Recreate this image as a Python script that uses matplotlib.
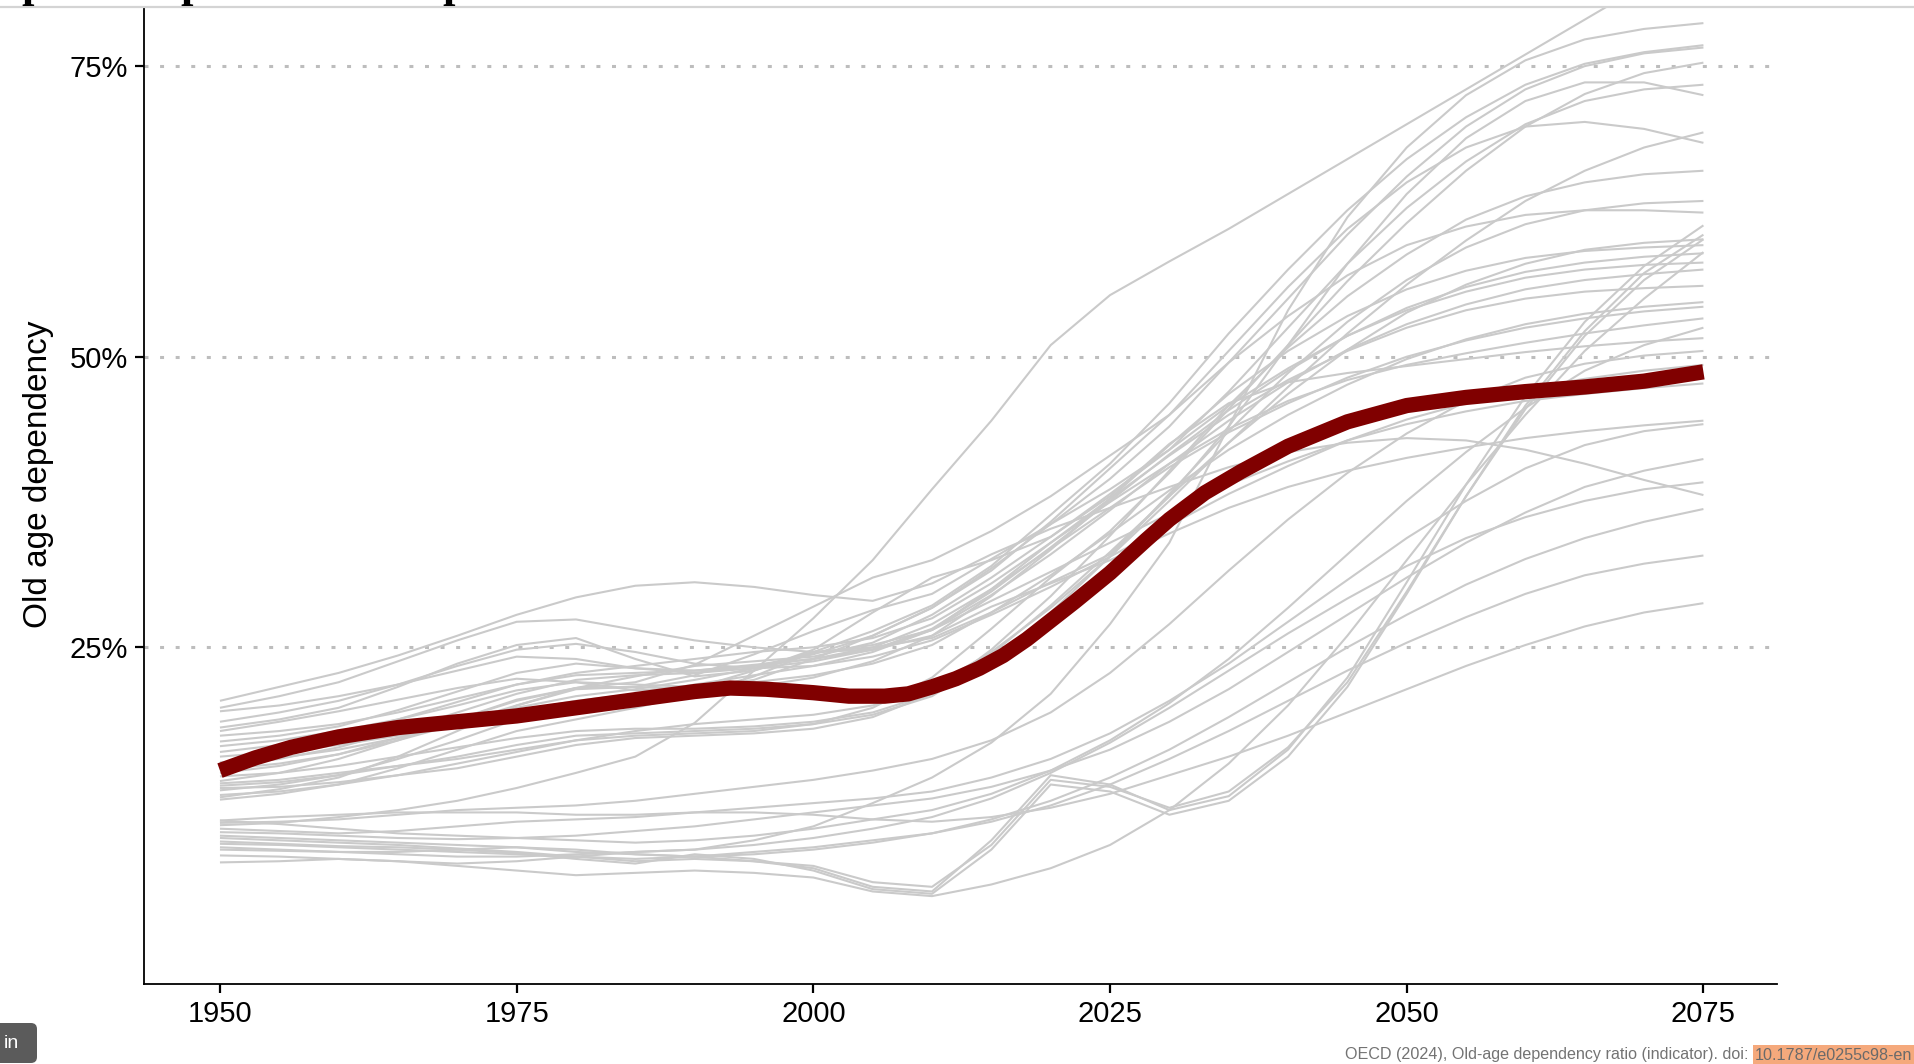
import matplotlib
matplotlib.use("Agg")
import matplotlib.pyplot as plt
from matplotlib.lines import Line2D
from matplotlib.patches import FancyBboxPatch

plt.rcParams["font.family"] = ["Liberation Sans", "DejaVu Sans"]

years = list(range(1950, 2076, 5))

# OECD average (highlighted), read at a finer step where it bends
avg_years = [1950, 1953, 1956, 1960, 1965, 1970, 1975, 1980, 1985, 1990, 1993, 1996, 2000,
             2003, 2006, 2008, 2010, 2012, 2014, 2016, 2018, 2020, 2022, 2025, 2028, 2030,
             2033, 2036, 2040, 2045, 2050, 2055, 2060, 2065, 2070, 2075]
oecd_avg = [14.4, 15.5, 16.4, 17.3, 18.1, 18.6, 19.1, 19.8, 20.5, 21.2, 21.5, 21.4, 21.1,
            20.8, 20.8, 21.0, 21.6, 22.3, 23.2, 24.3, 25.7, 27.3, 28.9, 31.4, 34.2, 36.0,
            38.3, 40.1, 42.3, 44.4, 45.8, 46.5, 47.0, 47.4, 47.9, 48.7]

# countries that start from a higher ratio in 1950
high_group = [
    [20.4, 21.6, 22.8, 24.3, 26.0, 27.8, 29.3, 30.3, 30.6, 30.2, 29.5, 29.0, 30.5, 33.0, 35.2, 37.0, 38.8, 40.5, 41.8, 42.6, 43.0, 42.8, 42.0, 40.8, 39.4, 38.1],
    [19.8, 20.8, 22.0, 23.8, 25.6, 27.2, 27.4, 26.5, 25.6, 25.0, 24.6, 24.8, 26.0, 28.5, 30.5, 32.5, 34.8, 37.0, 38.8, 40.2, 41.3, 42.2, 43.0, 43.6, 44.1, 44.5],
    [19.5, 20.0, 20.8, 21.8, 23.0, 24.2, 24.0, 23.2, 23.0, 23.4, 24.0, 24.8, 26.5, 29.0, 31.5, 34.0, 36.5, 39.0, 41.0, 42.8, 44.2, 45.3, 46.2, 46.8, 47.3, 47.7],
    [18.6, 19.4, 20.4, 21.8, 23.4, 24.8, 25.3, 24.6, 23.6, 23.2, 23.4, 24.2, 25.6, 27.8, 30.2, 32.8, 35.5, 38.2, 40.6, 42.8, 44.6, 46.0, 47.2, 48.1, 48.8, 49.3],
    [18.1, 18.8, 19.8, 21.6, 23.6, 25.2, 25.8, 24.0, 22.5, 23.0, 24.8, 28.0, 31.0, 32.5, 34.5, 38.0, 42.5, 46.0, 47.8, 48.6, 49.2, 49.8, 50.4, 50.9, 51.3, 51.6],
    [17.8, 18.6, 19.5, 20.5, 21.5, 22.3, 22.0, 21.3, 21.5, 23.0, 24.5, 25.2, 26.5, 30.0, 34.0, 37.5, 40.8, 43.8, 46.2, 48.0, 49.3, 50.3, 51.2, 52.0, 52.7, 53.3],
    [17.4, 17.8, 18.4, 19.4, 20.6, 21.8, 22.6, 22.8, 23.0, 23.5, 24.0, 25.0, 27.0, 30.0, 33.5, 37.0, 40.5, 43.5, 46.0, 48.2, 50.0, 51.4, 52.5, 53.3, 53.9, 54.3],
    [16.5, 17.0, 17.8, 18.8, 20.0, 21.3, 22.0, 21.8, 21.6, 22.0, 22.6, 23.6, 25.2, 28.0, 31.2, 34.8, 38.5, 42.0, 45.0, 47.6, 49.8, 51.5, 52.8, 53.7, 54.3, 54.7],
    [16.0, 16.6, 17.5, 18.8, 20.3, 21.8, 22.8, 23.4, 24.0, 24.6, 25.0, 25.8, 27.5, 30.5, 34.0, 37.8, 41.5, 45.0, 48.0, 50.5, 52.5, 54.0, 55.0, 55.6, 55.9, 56.1],
    [15.6, 16.0, 16.6, 17.4, 18.4, 19.5, 20.4, 21.0, 21.8, 22.6, 23.4, 24.6, 26.5, 29.5, 33.0, 36.8, 40.8, 44.5, 47.8, 50.6, 52.8, 54.5, 55.8, 56.6, 57.1, 57.5],
    [15.1, 15.5, 16.2, 17.2, 18.5, 20.0, 21.5, 22.5, 23.4, 23.8, 24.2, 25.4, 27.8, 31.0, 34.5, 38.2, 42.0, 45.8, 49.0, 51.8, 54.0, 55.6, 56.8, 57.5, 57.9, 58.1],
    [14.8, 15.4, 16.4, 17.8, 19.4, 21.0, 22.2, 22.6, 22.8, 23.2, 23.8, 24.8, 26.6, 29.8, 33.6, 37.6, 41.6, 45.4, 48.8, 51.8, 54.2, 56.0, 57.3, 58.1, 58.6, 58.9],
    [14.2, 14.8, 15.8, 17.2, 18.8, 20.4, 21.5, 21.6, 21.4, 21.6, 22.4, 23.8, 26.0, 29.4, 33.4, 37.8, 42.4, 46.8, 50.5, 53.5, 55.8, 57.4, 58.5, 59.1, 59.4, 59.6],
    [13.9, 14.2, 14.8, 15.6, 16.4, 17.2, 17.8, 18.0, 18.0, 18.2, 18.6, 19.4, 21.0, 24.4, 28.6, 33.2, 38.0, 42.6, 46.8, 50.6, 53.8, 56.2, 58.0, 59.2, 59.8, 60.1],
    [13.5, 14.2, 15.4, 17.0, 18.8, 20.5, 21.5, 22.0, 23.5, 26.0, 28.5, 31.0, 32.5, 35.0, 38.0, 41.5, 45.0, 49.5, 53.5, 57.0, 59.6, 61.2, 62.2, 62.6, 62.6, 62.4],
    [13.1, 13.4, 14.0, 14.8, 15.6, 16.6, 17.4, 17.6, 17.8, 18.0, 18.4, 19.2, 20.8, 24.0, 28.0, 32.8, 38.2, 43.6, 48.6, 53.0, 56.6, 59.4, 61.4, 62.6, 63.2, 63.4],
    [12.9, 13.0, 13.4, 14.0, 14.6, 15.6, 16.6, 17.2, 17.4, 17.6, 18.0, 19.0, 21.0, 24.8, 29.4, 34.6, 40.2, 45.8, 50.8, 55.2, 58.8, 61.8, 63.8, 65.0, 65.7, 66.0],
    [12.7, 13.2, 14.0, 15.4, 17.0, 18.8, 20.0, 20.6, 21.4, 22.2, 24.0, 26.0, 28.4, 31.6, 35.8, 40.4, 45.0, 50.5, 56.0, 61.0, 65.0, 68.0, 69.8, 70.2, 69.6, 68.4],
    [12.3, 12.6, 13.2, 14.0, 15.0, 16.0, 17.0, 17.8, 18.4, 18.8, 19.2, 20.0, 21.6, 24.6, 28.4, 32.8, 37.6, 42.6, 47.4, 52.0, 56.2, 60.0, 63.4, 66.0, 68.0, 69.3],
    [11.9, 12.4, 13.2, 14.6, 16.2, 17.8, 18.8, 19.8, 21.0, 22.5, 24.6, 25.0, 25.8, 28.0, 30.6, 33.0, 38.0, 44.0, 51.0, 58.0, 64.0, 68.8, 72.0, 73.6, 73.6, 72.5],
    [12.1, 12.8, 13.8, 15.6, 17.8, 20.0, 21.4, 21.6, 22.6, 24.4, 26.4, 28.2, 29.6, 32.6, 35.6, 38.6, 42.0, 47.0, 52.5, 58.0, 62.8, 66.8, 70.0, 72.0, 73.0, 73.4],
    [13.3, 13.6, 14.2, 14.8, 15.4, 16.2, 17.0, 17.4, 17.6, 17.8, 18.4, 19.8, 22.4, 26.6, 31.0, 35.0, 40.0, 45.5, 51.0, 56.5, 61.5, 66.0, 69.8, 72.6, 74.4, 75.3],
    [14.5, 15.0, 15.8, 17.0, 18.4, 19.8, 20.8, 21.4, 22.2, 23.2, 24.6, 26.4, 28.6, 32.0, 36.4, 40.8, 46.0, 52.0, 57.5, 62.6, 67.0, 70.6, 73.4, 75.2, 76.2, 76.8],
    [16.9, 17.4, 18.2, 19.6, 21.2, 22.8, 23.6, 23.2, 22.8, 23.4, 24.4, 26.0, 28.4, 31.8, 35.6, 39.5, 44.0, 49.5, 55.0, 60.5, 65.5, 69.8, 73.0, 75.0, 76.1, 76.6],
]

# countries that start from a low ratio in 1950
low_group = [
    [9.7, 9.9, 10.4, 11.0, 11.8, 12.9, 14.2, 15.6, 18.5, 23.0, 27.5, 32.5, 38.6, 44.5, 51.0, 55.3, 58.2, 61.0, 64.0, 67.0, 70.0, 73.0, 76.0, 79.0, 82.0, 85.0],
    [6.5, 6.6, 6.8, 6.6, 6.4, 6.6, 7.0, 7.4, 7.6, 8.4, 9.6, 11.6, 13.8, 16.8, 21.0, 27.0, 34.0, 44.0, 54.0, 62.0, 68.0, 72.5, 75.5, 77.3, 78.2, 78.7],
    [8.8, 8.6, 8.4, 8.2, 8.0, 7.8, 7.4, 7.2, 7.0, 6.6, 6.2, 4.8, 4.4, 8.0, 13.6, 13.0, 11.2, 12.6, 16.4, 22.0, 29.8, 38.0, 45.5, 51.8, 56.6, 60.1],
    [8.6, 8.4, 8.2, 8.0, 7.7, 7.4, 7.0, 6.6, 6.8, 6.6, 6.0, 4.4, 4.0, 8.4, 14.0, 13.2, 11.0, 12.2, 16.2, 22.4, 30.6, 39.0, 46.6, 53.0, 57.8, 61.3],
    [8.3, 8.1, 7.9, 7.8, 7.6, 7.3, 6.8, 6.4, 7.2, 6.8, 5.8, 4.2, 3.8, 7.6, 13.2, 12.6, 10.6, 11.8, 15.6, 21.6, 29.6, 38.0, 45.8, 52.2, 57.2, 60.5],
    [7.1, 7.0, 6.8, 6.6, 6.2, 5.8, 5.4, 5.6, 5.8, 5.6, 5.2, 4.0, 3.6, 4.6, 6.0, 8.0, 11.0, 15.0, 20.0, 26.0, 32.5, 39.0, 45.0, 50.5, 55.0, 59.0],
    [10.1, 9.8, 9.4, 9.0, 8.8, 8.6, 8.4, 8.2, 8.4, 8.8, 9.4, 10.2, 11.0, 12.4, 14.4, 17.0, 20.2, 24.0, 28.4, 33.0, 37.6, 41.8, 45.6, 48.8, 51.0, 52.5],
    [9.9, 10.0, 10.2, 10.6, 11.0, 11.2, 11.4, 11.8, 12.4, 13.0, 13.6, 14.4, 15.4, 17.0, 19.4, 22.8, 27.0, 31.6, 36.0, 40.0, 43.4, 46.2, 48.2, 49.4, 50.1, 50.5],
    [9.4, 9.2, 9.0, 9.2, 9.6, 10.0, 10.2, 10.4, 10.8, 11.2, 11.6, 12.0, 12.6, 13.8, 15.4, 17.6, 20.4, 23.6, 27.2, 30.8, 34.4, 37.6, 40.4, 42.4, 43.6, 44.2],
    [9.1, 9.0, 8.8, 8.6, 8.5, 8.6, 8.8, 9.2, 9.6, 10.2, 10.8, 11.4, 12.0, 13.0, 14.4, 16.2, 18.6, 21.4, 24.6, 27.8, 31.0, 34.0, 36.6, 38.8, 40.2, 41.2],
    [7.6, 7.5, 7.4, 7.2, 7.0, 7.0, 7.2, 7.4, 7.6, 8.0, 8.6, 9.4, 10.4, 12.0, 14.2, 16.8, 19.8, 23.0, 26.2, 29.2, 32.0, 34.4, 36.2, 37.6, 38.6, 39.2],
    [7.8, 7.6, 7.4, 7.4, 7.6, 7.8, 7.6, 7.2, 7.0, 7.2, 7.6, 8.2, 9.0, 10.2, 11.8, 13.8, 16.2, 19.0, 22.0, 25.0, 27.8, 30.4, 32.6, 34.4, 35.8, 36.9],
    [8.1, 8.0, 7.8, 7.6, 7.4, 7.2, 7.0, 6.8, 7.0, 7.4, 7.8, 8.4, 9.0, 10.0, 11.4, 13.2, 15.4, 17.8, 20.4, 23.0, 25.4, 27.6, 29.6, 31.2, 32.2, 32.9],
    [10.1, 10.4, 10.6, 10.8, 10.8, 10.8, 10.6, 10.6, 10.8, 10.8, 10.6, 10.2, 10.0, 10.4, 11.2, 12.4, 14.0, 15.6, 17.4, 19.4, 21.4, 23.4, 25.2, 26.8, 28.0, 28.8],
]

x_ticks = [1950, 1975, 2000, 2025, 2050, 2075]
y_ticks = [25, 50, 75]
y_tick_labels = ["25%", "50%", "75%"]

W, H = 1915, 1064
fig = plt.figure(figsize=(W / 100, H / 100), dpi=100)
ax = fig.add_axes([144 / W, 80 / H, (1777 - 144) / W, (1056 - 80) / H])

for yv in y_ticks:
    ax.axhline(yv, color="#bdbdbd", lw=2.2, linestyle=(0, (1.3, 3.8)), zorder=1)

for series in high_group + low_group:
    ax.plot(years, series, color="#cacaca", lw=1.5, solid_capstyle="butt",
            solid_joinstyle="round", zorder=2)

ax.plot(avg_years, oecd_avg, color="#800000", lw=11, solid_capstyle="butt",
        solid_joinstyle="round", zorder=3)

ax.set_xlim(1943.6, 2081.2)
ax.set_ylim(-3.96, 80.0)
ax.set_xticks(x_ticks)
ax.set_yticks(y_ticks, labels=y_tick_labels)
ax.tick_params(length=6.5, width=1.6, labelsize=21, pad=5, color="black")
for side in ["top", "right"]:
    ax.spines[side].set_visible(False)
for side in ["left", "bottom"]:
    ax.spines[side].set_linewidth(1.3)
    ax.spines[side].set_color("black")

fig.text(39 / W, 1 - 474 / H, "Old age dependency", rotation=90, fontsize=24,
         ha="center", va="center")

# page bits around the chart (cropped heading above, source line below)
fig.add_artist(Line2D([0, 1], [1 - 7 / H, 1 - 7 / H], color="#d4d4d4", lw=1.6))
for gx in [21, 180, 442]:
    fig.text(gx / W, 1 + 3 / H, "p", family="Liberation Serif", weight="bold",
             fontsize=32, ha="left", va="baseline")

src = fig.text(1345 / W, 1 - 1055 / H,
               "OECD (2024), Old-age dependency ratio (indicator). doi: ",
               fontsize=11.6, color="#737373", va="center")
fig.canvas.draw()
src_end = src.get_window_extent().x1 / W
fig.text(src_end + 2 / W, 1 - 1055 / H, "10.1787/e0255c98-en", fontsize=11.6,
         color="#6a6a6a", va="center",
         bbox=dict(facecolor="#f5a97c", edgecolor="none", pad=1.5))

btn = fig.add_axes([0, 0, 40 / W, 45 / H])
btn.set_xlim(0, 40)
btn.set_ylim(0, 45)
btn.axis("off")
btn.add_patch(FancyBboxPatch((-12, 1), 49, 40, boxstyle="round,pad=0,rounding_size=6",
                             facecolor="#5b5b5b", edgecolor="none"))
btn.text(4, 20, "in", color="white", fontsize=14, va="center", ha="left")

fig.savefig("out.png", dpi=100)
